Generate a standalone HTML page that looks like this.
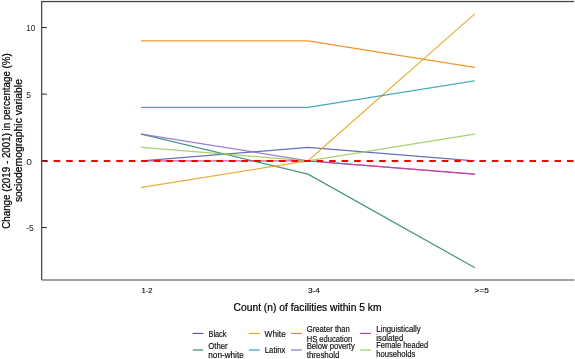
<!DOCTYPE html>
<html><head><meta charset="utf-8"><style>
html,body{margin:0;padding:0;background:#fff;}
body{width:575px;height:359px;overflow:hidden;font-family:"Liberation Sans",sans-serif;}
svg{display:block;will-change:transform;}
text{font-family:"Liberation Sans",sans-serif;}
</style></head><body>
<svg width="575" height="359" viewBox="0 0 575 359">
<rect width="575" height="359" fill="#fff"/>
<rect x="41" y="0" width="533" height="1" fill="#ececec" shape-rendering="crispEdges"/>
<rect x="41" y="1" width="533" height="1" fill="#444" shape-rendering="crispEdges"/>
<rect x="41" y="2" width="533" height="1" fill="#dcdcdc" shape-rendering="crispEdges"/>
<line x1="41.65" y1="1.2" x2="41.65" y2="280.3" stroke="#424242" stroke-width="1.2"/>
<line x1="42.2" y1="280.05" x2="574.3" y2="280.05" stroke="#808080" stroke-width="1.5"/>
<polyline points="141.50,160.80 308.00,147.47 474.50,160.80" fill="none" stroke="#4f57b3" stroke-opacity="0.86" stroke-width="1.25" stroke-linejoin="round" stroke-linecap="round"/>
<polyline points="141.50,134.13 308.00,174.13 474.50,267.47" fill="none" stroke="#2a8670" stroke-opacity="0.86" stroke-width="1.25" stroke-linejoin="round" stroke-linecap="round"/>
<polyline points="141.50,187.47 308.00,160.80 474.50,14.13" fill="none" stroke="#dfa51c" stroke-opacity="0.86" stroke-width="1.25" stroke-linejoin="round" stroke-linecap="round"/>
<polyline points="141.50,107.47 308.00,107.47 474.50,80.80" fill="none" stroke="#2e9bb0" stroke-opacity="0.86" stroke-width="1.25" stroke-linejoin="round" stroke-linecap="round"/>
<polyline points="141.50,40.80 308.00,40.80 474.50,67.47" fill="none" stroke="#e8880e" stroke-opacity="0.86" stroke-width="1.25" stroke-linejoin="round" stroke-linecap="round"/>
<polyline points="141.50,134.13 308.00,160.80 474.50,174.13" fill="none" stroke="#8d68c8" stroke-opacity="0.86" stroke-width="1.25" stroke-linejoin="round" stroke-linecap="round"/>
<polyline points="141.50,160.80 308.00,160.80 474.50,174.13" fill="none" stroke="#cf3498" stroke-opacity="0.86" stroke-width="1.25" stroke-linejoin="round" stroke-linecap="round"/>
<polyline points="141.50,147.47 308.00,160.80 474.50,134.13" fill="none" stroke="#96cc55" stroke-opacity="0.86" stroke-width="1.25" stroke-linejoin="round" stroke-linecap="round"/>
<line x1="42.3" y1="161.00" x2="575" y2="161.00" stroke="#ff0000" stroke-width="2" stroke-dasharray="6.6 5.92" stroke-dashoffset="1.16"/>
<line x1="41.5" y1="27.47" x2="46.9" y2="27.47" stroke="#2a2a2a" stroke-width="1.0"/>
<line x1="41.5" y1="94.13" x2="46.9" y2="94.13" stroke="#2a2a2a" stroke-width="1.0"/>
<line x1="41.5" y1="160.80" x2="46.9" y2="160.80" stroke="#2a2a2a" stroke-width="1.0"/>
<line x1="41.5" y1="227.47" x2="46.9" y2="227.47" stroke="#2a2a2a" stroke-width="1.0"/>
<text x="26.3" y="31.30"  font-size="8.4" fill="#222" textLength="9.1" lengthAdjust="spacingAndGlyphs">10</text>
<text x="26.3" y="98.10"  font-size="8.4" fill="#222" textLength="4.7" lengthAdjust="spacingAndGlyphs">5</text>
<text x="26.3" y="164.70"  font-size="8.4" fill="#222" textLength="5.7" lengthAdjust="spacingAndGlyphs">0</text>
<text x="26.3" y="231.40"  font-size="8.4" fill="#222" textLength="7.5" lengthAdjust="spacingAndGlyphs">-5</text>
<text x="141.5" y="293.2"  font-size="8" fill="#111" stroke="#111" stroke-width="0.15" textLength="11.1" lengthAdjust="spacingAndGlyphs">1-2</text>
<text x="307.9" y="293.2"  font-size="8" fill="#111" stroke="#111" stroke-width="0.15" textLength="12.1" lengthAdjust="spacingAndGlyphs">3-4</text>
<text x="474.6" y="293.2"  font-size="8" fill="#111" stroke="#111" stroke-width="0.15" textLength="14.3" lengthAdjust="spacingAndGlyphs">&gt;=5</text>
<text x="233.6" y="310.7"  font-size="10.7" fill="#000" stroke="#000" stroke-width="0.22" textLength="147.9" lengthAdjust="spacingAndGlyphs">Count (n) of facilities within 5 km</text>
<text transform="translate(9.7,228.8) rotate(-90)"  font-size="10.7" fill="#000" stroke="#000" stroke-width="0.22" textLength="175.6" lengthAdjust="spacingAndGlyphs">Change (2019 - 2001) in percentage (%)</text>
<text transform="translate(22.2,202.1) rotate(-90)"  font-size="10.7" fill="#000" stroke="#000" stroke-width="0.22" textLength="123.0" lengthAdjust="spacingAndGlyphs">sociodemographic variable</text>
<line x1="192.6" y1="333.45" x2="203.2" y2="333.45" stroke="#4f57b3" stroke-width="1.15"/>
<line x1="192.7" y1="350.0" x2="203.1" y2="350.0" stroke="#2a8670" stroke-width="1.15"/>
<line x1="248.8" y1="333.45" x2="259.65" y2="333.45" stroke="#dfa51c" stroke-width="1.15"/>
<line x1="248.8" y1="350.0" x2="259.65" y2="350.0" stroke="#2e9bb0" stroke-width="1.15"/>
<line x1="291.0" y1="333.45" x2="301.95" y2="333.45" stroke="#e8880e" stroke-width="1.15"/>
<line x1="291.0" y1="350.0" x2="301.95" y2="350.0" stroke="#8d68c8" stroke-width="1.15"/>
<line x1="360.0" y1="333.45" x2="370.95" y2="333.45" stroke="#cf3498" stroke-width="1.15"/>
<line x1="360.0" y1="350.0" x2="370.95" y2="350.0" stroke="#96cc55" stroke-width="1.15"/>
<text x="208.6" y="336.80"  font-size="8.8" fill="#111" stroke="#111" stroke-width="0.18" textLength="17.7" lengthAdjust="spacingAndGlyphs">Black</text>
<text x="208.3" y="348.80"  font-size="8.8" fill="#111" stroke="#111" stroke-width="0.18" textLength="19.4" lengthAdjust="spacingAndGlyphs">Other</text>
<text x="208.3" y="357.80"  font-size="8.8" fill="#111" stroke="#111" stroke-width="0.18" textLength="35.4" lengthAdjust="spacingAndGlyphs">non-white</text>
<text x="264.6" y="336.50"  font-size="8.8" fill="#111" stroke="#111" stroke-width="0.18" textLength="21.2" lengthAdjust="spacingAndGlyphs">White</text>
<text x="264.8" y="352.90"  font-size="8.8" fill="#111" stroke="#111" stroke-width="0.18" textLength="20.6" lengthAdjust="spacingAndGlyphs">Latinx</text>
<text x="306.7" y="332.00"  font-size="8.8" fill="#111" stroke="#111" stroke-width="0.18" textLength="43.2" lengthAdjust="spacingAndGlyphs">Greater than</text>
<text x="306.7" y="341.50"  font-size="8.8" fill="#111" stroke="#111" stroke-width="0.18" textLength="45.5" lengthAdjust="spacingAndGlyphs">HS education</text>
<text x="306.7" y="348.60"  font-size="8.8" fill="#111" stroke="#111" stroke-width="0.18" textLength="48.1" lengthAdjust="spacingAndGlyphs">Below poverty</text>
<text x="306.7" y="357.80"  font-size="8.8" fill="#111" stroke="#111" stroke-width="0.18" textLength="32.7" lengthAdjust="spacingAndGlyphs">threshold</text>
<text x="376.3" y="332.00"  font-size="8.8" fill="#111" stroke="#111" stroke-width="0.18" textLength="44.4" lengthAdjust="spacingAndGlyphs">Linguistically</text>
<text x="376.3" y="341.20"  font-size="8.8" fill="#111" stroke="#111" stroke-width="0.18" textLength="27.0" lengthAdjust="spacingAndGlyphs">isolated</text>
<text x="376.3" y="348.10"  font-size="8.8" fill="#111" stroke="#111" stroke-width="0.18" textLength="51.8" lengthAdjust="spacingAndGlyphs">Female headed</text>
<text x="376.3" y="357.40"  font-size="8.8" fill="#111" stroke="#111" stroke-width="0.18" textLength="39.1" lengthAdjust="spacingAndGlyphs">households</text>
</svg>
</body></html>
